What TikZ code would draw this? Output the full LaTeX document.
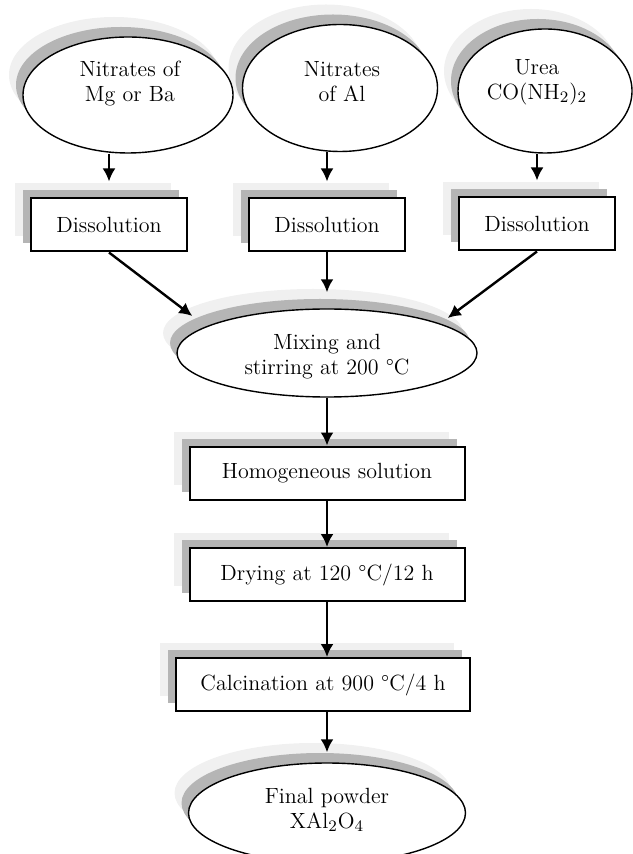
\documentclass[tikz,border=0pt]{standalone}
\usetikzlibrary{arrows.meta,shapes.geometric,shadows}

\begin{document}
\begin{tikzpicture}[x=.5pt,y=-.5pt,>={Latex[length=6.5pt,width=6.5pt]},
  font=\fontsize{11}{12.5}\selectfont,
  twoshade/.style n args={4}{general shadow={shadow xshift=#3,shadow yshift=#4,fill=black!6},
    general shadow={shadow xshift=#1,shadow yshift=#2,fill=black!29}},
  stepbox/.style={draw,line width=1pt,fill=white,minimum height=26.5pt,inner sep=0pt,
    twoshade={-4pt}{4pt}{-8pt}{7.5pt}},
  blob/.style={ellipse,draw,line width=.7pt,fill=white,inner sep=0pt,
    twoshade={-3.5pt}{5pt}{-7pt}{10pt}},
  flow/.style={->,line width=1.2pt}]
\useasboundingbox (0,0) rectangle (632,854);
\node[blob,minimum width=97.5pt,minimum height=63.5pt] (src2) at (340,88) {};
\node[blob,minimum width=87pt,minimum height=62pt] (src3) at (545,91) {};
\node[blob,minimum width=105pt,minimum height=58pt] (src1) at (128,95) {};
\node[align=center] (src1txt) at (130,84) {Nitrates of\\Mg or Ba};
\node[align=center] (src2txt) at (342,82) {Nitrates\\of Al};
\node[align=center] (src3txt) at (537,82) {Urea\\CO(NH$_2$)$_2$};
\node[stepbox,minimum width=78pt] (dis1) at (109,225) {Dissolution};
\node[stepbox,minimum width=78pt] (dis2) at (327,225) {Dissolution};
\node[stepbox,minimum width=78pt] (dis3) at (537,224) {Dissolution};
\node[blob,minimum width=150pt,minimum height=44pt] (mix) at (327,353) {};
\node[align=center] (mixtxt) at (327,357) {Mixing and\\stirring at 200 °C};
\node[stepbox,minimum width=137.5pt] (homog) at (327,473) {Homogeneous solution};
\node[stepbox,minimum width=137.5pt] (dry) at (327,574.5) {Drying at 120 °C/12 h};
\node[stepbox,minimum width=147pt] (calc) at (323,684.5) {Calcination at 900 °C/4 h};
\node[blob,minimum width=138.5pt,minimum height=50pt] (final) at (327,813) {};
\node[align=center] (finaltxt) at (327,810) {Final powder\\XAl$_2$O$_4$};
\draw[flow] (dis1.north |- src1.south) -- ([yshift=8pt]dis1.north);
\draw[flow] (dis2.north |- src2.south) -- ([yshift=8pt]dis2.north);
\draw[flow] (dis3.north |- src3.south) -- ([yshift=8pt]dis3.north);
\draw[flow] (dis1.south) -- ([shift={(16,-37)}]mix.west);
\draw[flow] (dis2.south) -- ([yshift=8pt]mix.north);
\draw[flow] (dis3.south) -- ([shift={(-30,-35)}]mix.east);
\draw[flow] (mix.south) -- (homog.north);
\draw[flow] (homog.south) -- (dry.north);
\draw[flow] (dry.south) -- (dry.south |- calc.north);
\draw[flow] (calc.south -| final.north) -- ([yshift=5pt]final.north);
\end{tikzpicture}
\end{document}
